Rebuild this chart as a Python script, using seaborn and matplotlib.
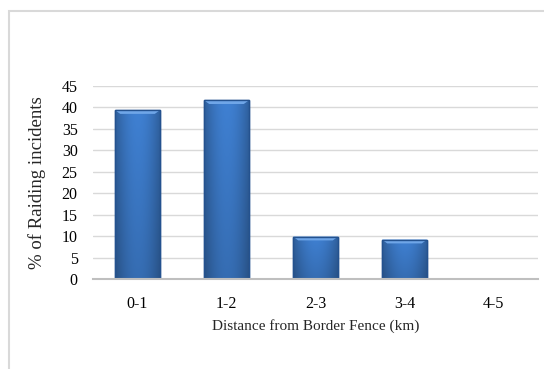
import numpy as np
import pandas as pd
import matplotlib
matplotlib.use("Agg")
import matplotlib.pyplot as plt
from matplotlib.patches import Rectangle
import seaborn as sns

# Share of raiding incidents by distance band from the border fence
distance_bands = ["0-1", "1-2", "2-3", "3-4", "4-5"]
raiding_pct = [39.4, 41.7, 9.9, 9.2, 0.0]
y_ticks = [0, 5, 10, 15, 20, 25, 30, 35, 40, 45]

df = pd.DataFrame({"band": distance_bands, "pct": raiding_pct})

sns.set_theme(style="white")
plt.rcParams["font.family"] = ["Liberation Serif", "DejaVu Serif"]

fig = plt.figure(figsize=(5.44, 3.69), dpi=100)
ax = fig.add_axes([93 / 544, 1 - 279 / 369, (538 - 93) / 544, (279 - 86) / 369])

sns.barplot(data=df, x="band", y="pct", ax=ax, color="#3B78C8",
            width=0.51, edgecolor="#24528F", linewidth=1.0, zorder=3)

# Bevelled look: gradient fill clipped to each bar plus a light top facet
grad = np.linspace(0, 1, 64)
shade = 0.62 + 0.38 * np.sin(np.pi * (0.1 + 0.8 * grad))
for patch in ax.patches:
    h = patch.get_height()
    if h <= 0:
        continue
    x0, w = patch.get_x(), patch.get_width()
    col = np.array(matplotlib.colors.to_rgb("#3F80D2"))
    img = (col[None, None, :] * shade[None, :, None]).clip(0, 1)
    vert = np.linspace(1.0, 0.85, 64)
    img = (img * vert[:, None, None]).clip(0, 1)
    im = ax.imshow(img, extent=[x0, x0 + w, 0, h], aspect="auto",
                   origin="upper", zorder=3.5)
    im.set_clip_path(patch)
    bev = min(0.9, h * 0.5)
    ax.fill([x0, x0 + w, x0 + w * 0.88, x0 + w * 0.12],
            [h, h, h - bev, h - bev], color="#6FA6E8", zorder=3.6, lw=0)
    ax.add_patch(Rectangle((x0, 0), w, h, fill=False, edgecolor="#24528F",
                           lw=1.0, zorder=3.7))

ax.set_ylim(0, 45)
ax.set_xlim(-0.5, 4.5)
ax.set_yticks(y_ticks)
ax.yaxis.grid(True, color="#D9D9D9", linewidth=1.0, zorder=0)
ax.xaxis.grid(False)
for s in ["top", "right", "left"]:
    ax.spines[s].set_visible(False)
ax.spines["bottom"].set_color("#BFBFBF")
ax.spines["bottom"].set_linewidth(1.5)
ax.spines["bottom"].set_zorder(4)

ax.tick_params(axis="both", length=0, labelsize=11.5, colors="#000000")
ax.tick_params(axis="x", pad=12)
ax.tick_params(axis="y", pad=11)
ax.set_xlabel("Distance from Border Fence (km)", fontsize=11, labelpad=5)
ax.set_ylabel("% of Raiding incidents", fontsize=13.5, labelpad=11)

# Light frame around the chart area
fig.patches.append(Rectangle((9 / 544, -0.05), 1.2, 1 - 11 / 369 + 0.05,
                             transform=fig.transFigure, fill=False,
                             edgecolor="#D9D9D9", linewidth=1.5))

fig.savefig("out.png", dpi=100, facecolor="white")
